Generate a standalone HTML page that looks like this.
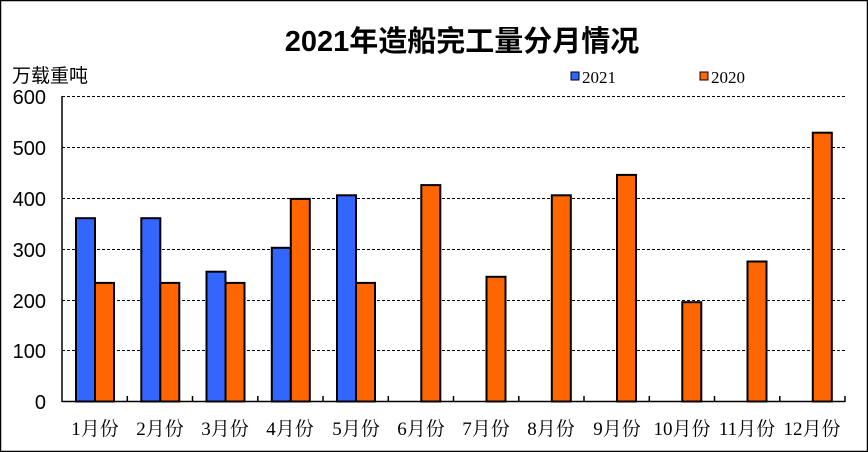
<!DOCTYPE html>
<html><head><meta charset="utf-8"><style>
body{margin:0;background:#fff}
svg{display:block}
</style></head><body>
<svg width="868" height="452" xmlns="http://www.w3.org/2000/svg" font-family="Liberation Sans, Noto Sans CJK SC, sans-serif">
<rect x="0.5" y="0.5" width="867" height="451" fill="#fff" stroke="#000" stroke-width="1.5"/>
<text x="462" y="51" font-size="29" font-weight="bold" text-anchor="middle" font-family="Liberation Sans, Noto Sans CJK SC, sans-serif">2021年造船完工量分月情况</text>
<text x="12" y="82" font-size="19">万载重吨</text>
<g stroke="#000" stroke-width="1" stroke-dasharray="3,2">
<line x1="62" x2="845" y1="96.5" y2="96.5"/>
<line x1="62" x2="845" y1="147.5" y2="147.5"/>
<line x1="62" x2="845" y1="198.5" y2="198.5"/>
<line x1="62" x2="845" y1="249.5" y2="249.5"/>
<line x1="62" x2="845" y1="300.5" y2="300.5"/>
<line x1="62" x2="845" y1="350.5" y2="350.5"/>
</g>
<g font-size="20" text-anchor="end">
<text x="46" y="104">600</text><text x="46" y="155">500</text><text x="46" y="206">400</text>
<text x="46" y="257">300</text><text x="46" y="308">200</text><text x="46" y="358">100</text><text x="46" y="409">0</text>
</g>
<g stroke="#000" stroke-width="2">
<rect x="76" y="218.2" width="19" height="183.3" fill="#3366ff"/>
<rect x="95" y="282.9" width="19" height="118.6" fill="#ff6600"/>
<rect x="141.3" y="218.2" width="19" height="183.3" fill="#3366ff"/>
<rect x="160.3" y="282.9" width="19" height="118.6" fill="#ff6600"/>
<rect x="206.5" y="271.7" width="19" height="129.8" fill="#3366ff"/>
<rect x="225.5" y="282.9" width="19" height="118.6" fill="#ff6600"/>
<rect x="271.8" y="247.8" width="19" height="153.7" fill="#3366ff"/>
<rect x="290.8" y="198.9" width="19" height="202.6" fill="#ff6600"/>
<rect x="337" y="195.3" width="19" height="206.2" fill="#3366ff"/>
<rect x="356" y="282.9" width="19" height="118.6" fill="#ff6600"/>
<rect x="421.3" y="185.1" width="19" height="216.4" fill="#ff6600"/>
<rect x="486.5" y="276.8" width="19" height="124.7" fill="#ff6600"/>
<rect x="551.8" y="195.3" width="19" height="206.2" fill="#ff6600"/>
<rect x="617" y="174.9" width="19" height="226.6" fill="#ff6600"/>
<rect x="682.3" y="302.2" width="19" height="99.3" fill="#ff6600"/>
<rect x="747.5" y="261.5" width="19" height="140" fill="#ff6600"/>
<rect x="812.8" y="132.7" width="19" height="268.8" fill="#ff6600"/>
</g>
<g stroke="#000" stroke-width="1.5">
<line x1="62" y1="96" x2="62" y2="402"/>
<line x1="62" y1="401.5" x2="845" y2="401.5"/>
<line x1="127.3" y1="396" x2="127.3" y2="402"/><line x1="192.5" y1="396" x2="192.5" y2="402"/>
<line x1="257.8" y1="396" x2="257.8" y2="402"/><line x1="323" y1="396" x2="323" y2="402"/>
<line x1="388.3" y1="396" x2="388.3" y2="402"/><line x1="453.5" y1="396" x2="453.5" y2="402"/>
<line x1="518.8" y1="396" x2="518.8" y2="402"/><line x1="584" y1="396" x2="584" y2="402"/>
<line x1="649.3" y1="396" x2="649.3" y2="402"/><line x1="714.5" y1="396" x2="714.5" y2="402"/>
<line x1="779.8" y1="396" x2="779.8" y2="402"/><line x1="845" y1="396" x2="845" y2="402"/>
</g>
<g font-size="19" text-anchor="middle" font-family="Liberation Serif, Noto Serif CJK SC, serif">
<text x="95" y="435">1月份</text><text x="160" y="435">2月份</text><text x="225" y="435">3月份</text>
<text x="290" y="435">4月份</text><text x="356" y="435">5月份</text><text x="421" y="435">6月份</text>
<text x="486" y="435">7月份</text><text x="551" y="435">8月份</text><text x="617" y="435">9月份</text>
<text x="682" y="435">10月份</text><text x="747" y="435">11月份</text><text x="812" y="435">12月份</text>
</g>
<rect x="571" y="72" width="8" height="8" fill="#3366ff" stroke="#000"/>
<text x="582" y="83" font-size="17" font-family="Liberation Serif, serif">2021</text>
<rect x="700" y="72" width="8" height="8" fill="#ff6600" stroke="#000"/>
<text x="711" y="83" font-size="17" font-family="Liberation Serif, serif">2020</text>
</svg>
</body></html>
